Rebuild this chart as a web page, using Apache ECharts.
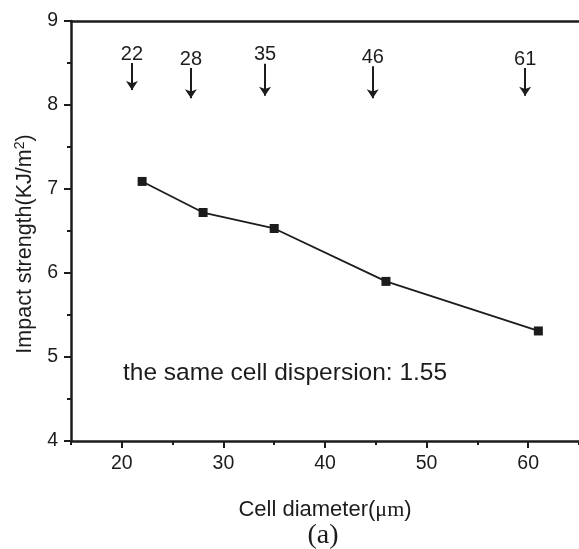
<!DOCTYPE html>
<html>
<head>
<meta charset="utf-8">
<script src="https://cdn.jsdelivr.net/npm/echarts@6/dist/echarts.min.js"></script>
<style>
html, body { margin: 0; padding: 0; background: #fff; }
#chart { width: 579px; height: 549px; }
</style>
</head>
<body>
<div id="chart"></div>
<script>
// measured points
var cellDiameter = [22, 28, 35, 46, 61];
var impactStrength = [7.09, 6.72, 6.53, 5.90, 5.31];

// arrows above the curve
var arrowLabels = ['22', '28', '35', '46', '61'];
var arrowX = [21.0, 26.8, 34.1, 44.7, 59.7];
var arrowTop = [8.50, 8.44, 8.49, 8.46, 8.44];
var arrowBottom = [8.18, 8.08, 8.11, 8.08, 8.11];

// axis ticks
var xLabelTicks = [20, 30, 40, 50, 60];
var xMinorTicks = [15, 25, 35, 45, 55, 65];

var sans = '"Liberation Sans", Arial, sans-serif';
var serif = '"Liberation Serif", "Times New Roman", serif';
var ink = '#1c1c1c';

function drawChart() {
	var myChart = echarts.init(document.getElementById('chart'));

	var points = [];
	for (var i = 0; i < cellDiameter.length; i++) {
		points.push([cellDiameter[i], impactStrength[i]]);
	}
	var arrows = [];
	for (var j = 0; j < arrowX.length; j++) {
		arrows.push([
			{ coord: [arrowX[j], arrowTop[j]], name: arrowLabels[j] },
			{ coord: [arrowX[j], arrowBottom[j]] }
		]);
	}

	var option = {
		animation: false,
		backgroundColor: '#fff',
		grid: { left: 71, top: 21, width: 516, height: 420 },
		xAxis: [
			{
				type: 'value',
				position: 'bottom',
				min: 15,
				max: 65,
				interval: 5,
				axisLine: { show: true, lineStyle: { color: ink, width: 2.5 } },
				axisTick: { show: true, length: 7, inside: false, customValues: xLabelTicks, lineStyle: { color: ink, width: 2 } },
				axisLabel: { customValues: xLabelTicks, margin: 13, fontSize: 19.5, color: ink, fontFamily: sans },
				splitLine: { show: false },
				name: 'Cell diameter({u|\u03bcm})',
				nameLocation: 'middle',
				nameGap: 58,
				nameTextStyle: {
					fontSize: 22, color: ink, fontFamily: sans,
					rich: { u: { fontSize: 22, color: ink, fontFamily: serif } }
				}
			},
			{
				type: 'value',
				position: 'bottom',
				min: 15,
				max: 65,
				interval: 5,
				axisLine: { show: false },
				axisTick: { show: true, length: 4, customValues: xMinorTicks, lineStyle: { color: ink, width: 2 } },
				axisLabel: { show: false },
				splitLine: { show: false }
			},
			{
				type: 'value',
				position: 'top',
				min: 15,
				max: 65,
				axisLine: { show: true, lineStyle: { color: ink, width: 2.5 } },
				axisTick: { show: false },
				axisLabel: { show: false },
				splitLine: { show: false }
			}
		],
		yAxis: {
			type: 'value',
			min: 4,
			max: 9,
			interval: 1,
			axisLine: { show: true, lineStyle: { color: ink, width: 2.5 } },
			axisTick: { show: true, length: 7, lineStyle: { color: ink, width: 2 } },
			minorTick: { show: true, splitNumber: 2, length: 4, lineStyle: { color: ink, width: 2 } },
			axisLabel: { margin: 13, fontSize: 19.5, color: ink, fontFamily: sans },
			splitLine: { show: false },
			name: 'Impact strength(KJ/m{s|2})',
			nameLocation: 'middle',
			nameGap: 33,
			nameTextStyle: {
				fontSize: 21.5, color: ink, fontFamily: sans,
				padding: [0, 26, 0, 0],
				rich: { s: { fontSize: 14, color: ink, fontFamily: sans, verticalAlign: 'top', padding: [0, 0, 10, 0] } }
			}
		},
		series: [
			{
				type: 'line',
				data: points,
				symbol: 'rect',
				symbolSize: 9,
				itemStyle: { color: ink },
				lineStyle: { color: ink, width: 1.8 },
				markLine: {
					silent: true,
					symbol: ['none', 'arrow'],
					symbolSize: 9,
					lineStyle: { color: ink, width: 2, type: 'solid' },
					label: {
						show: true,
						position: 'start',
						distance: -1,
						formatter: '{b}',
						fontSize: 20,
						color: ink,
						fontFamily: sans
					},
					data: arrows
				}
			}
		],
		graphic: [
			{
				type: 'text',
				left: 123,
				top: 361,
				style: { text: 'the same cell dispersion: 1.55', fontSize: 24.5, fill: ink, fontFamily: sans }
			},
			{
				type: 'text',
				style: { text: '(a)', x: 323, y: 536, align: 'center', verticalAlign: 'middle', fontSize: 28, fill: ink, fontFamily: serif }
			}
		]
	};
	myChart.setOption(option);
}

drawChart();
</script>
</body>
</html>
